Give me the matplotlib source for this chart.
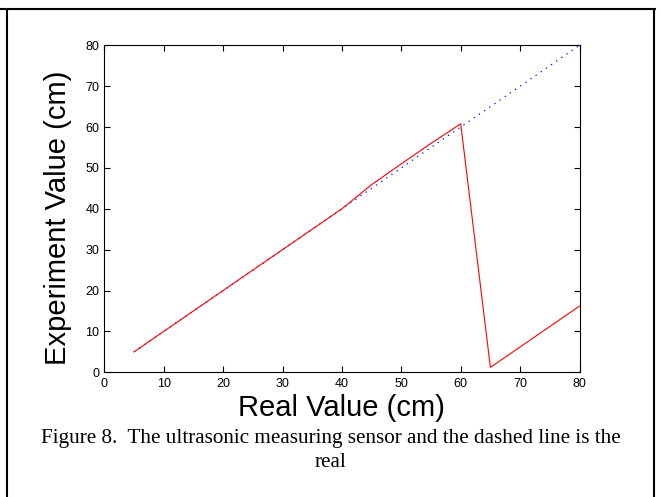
import numpy as np
from matplotlib import pyplot as plt
from matplotlib.lines import Line2D

# real distance (cm) and what the ultrasonic sensor measured
real = [5, 10, 15, 20, 25, 30, 35, 40, 45, 50, 55, 60, 65, 70, 75, 80]
measured = [5, 10, 15, 20, 25, 30, 35, 40, 45.9, 51, 56, 60.8, 1.2, 6.2, 11.2, 16.2]
ticks = [0, 10, 20, 30, 40, 50, 60, 70, 80]

W, H = 662, 497
fig = plt.figure(figsize=(W / 100, H / 100), dpi=100)
ax = fig.add_axes([104.3 / W, 1 - 372.3 / H, 475.2 / W, 327 / H])

ax.plot(real, real, color='blue', lw=0.9, dashes=[1, 4])
ax.plot(real, measured, color='red', lw=0.8)

ax.set_xlim(0, 80)
ax.set_ylim(0, 80)
ax.set_xticks(ticks)
ax.set_yticks(ticks)
ax.tick_params(direction='in', top=True, right=True, length=4, width=0.8,
               labelsize=9, colors='black')
ax.tick_params(axis='y', pad=3.5)
ax.tick_params(axis='x', pad=4)
for lab in ax.get_xticklabels() + ax.get_yticklabels():
    lab.set_family('Liberation Sans')
for s in ax.spines.values():
    s.set_linewidth(0.8)

ax.set_xlabel('Real Value (cm)', family='Liberation Sans', fontsize=21, labelpad=3)
ax.set_ylabel('Experiment Value (cm)', family='Liberation Sans', fontsize=21)
ax.yaxis.set_label_coords(-0.068, 0.472)

# caption below the plot
fig.text(331 / W, 1 - 443 / H, 'Figure 8.  The ultrasonic measuring sensor and the dashed line is the',
         family='Liberation Serif', fontsize=15.2, ha='center', va='baseline')
fig.text(331 / W, 1 - 467 / H, 'real', family='Liberation Serif', fontsize=15.2,
         ha='center', va='baseline')

# frame around figure (open at bottom)
fig.add_artist(Line2D([0, 655 / W], [1 - 9 / H, 1 - 9 / H], color='black', lw=1.5,
                      transform=fig.transFigure))
fig.add_artist(Line2D([7 / W, 7 / W], [0, 1 - 9 / H], color='black', lw=1.5,
                      transform=fig.transFigure))
fig.add_artist(Line2D([654 / W, 654 / W], [0, 1 - 9 / H], color='black', lw=1.5,
                      transform=fig.transFigure))

fig.savefig('out.png', dpi=100)
